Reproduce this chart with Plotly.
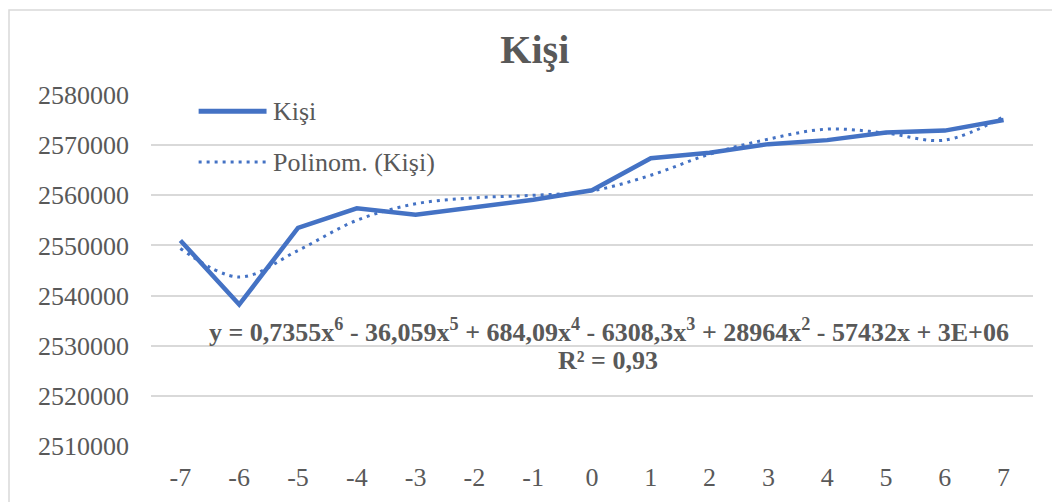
import plotly.graph_objects as go

# Values
years = [-7, -6, -5, -4, -3, -2, -1, 0, 1, 2, 3, 4, 5, 6, 7]
kisi = [2551000, 2538200, 2553500, 2557400, 2556100, 2557600, 2559100, 2561000,
        2567400, 2568500, 2570200, 2571000, 2572500, 2572900, 2575000]
trend = [2549400, 2543700, 2549000, 2555000, 2558300, 2559500, 2560000, 2560900,
         2564000, 2568200, 2571200, 2573200, 2572400, 2571000, 2575700]
y_ticks = [2510000, 2520000, 2530000, 2540000, 2550000, 2560000, 2570000, 2580000]

BLUE = "#4472C4"
GREY = "#595959"
FONT = "Liberation Serif"
DOTS = "3px,5px"

fig = go.Figure()

fig.add_trace(go.Scatter(
    x=years, y=kisi, mode="lines", name="Kişi",
    line=dict(color=BLUE, width=4.5),
))
fig.add_trace(go.Scatter(
    x=years, y=trend, mode="lines", name="Polinom. (Kişi)",
    line=dict(color=BLUE, width=3, dash=DOTS, shape="spline", smoothing=1.0),
))

eq = ("<b>y = 0,7355x<sup>6</sup> - 36,059x<sup>5</sup> + 684,09x<sup>4</sup> - 6308,3x<sup>3</sup>"
      " + 28964x<sup>2</sup> - 57432x + 3E+06</b>")

# legend drawn by hand so the sample lines are as long as in the original
legend_shapes = [
    dict(type="line", xref="paper", yref="paper", x0=0.054, x1=0.131, y0=0.954, y1=0.954,
         line=dict(color=BLUE, width=5)),
    dict(type="line", xref="paper", yref="paper", x0=0.054, x1=0.131, y0=0.809, y1=0.809,
         line=dict(color=BLUE, width=3, dash=DOTS)),
]
legend_notes = [
    dict(x=0.136, y=0.954, xref="paper", yref="paper", text="Kişi", showarrow=False,
         xanchor="left", yanchor="middle", font=dict(size=26, color=GREY, family=FONT)),
    dict(x=0.136, y=0.809, xref="paper", yref="paper", text="Polinom. (Kişi)", showarrow=False,
         xanchor="left", yanchor="middle", font=dict(size=26, color=GREY, family=FONT)),
]

fig.update_layout(
    width=1060, height=502,
    margin=dict(l=143, r=35, t=87, b=64),
    paper_bgcolor="white", plot_bgcolor="white",
    font=dict(family=FONT, color=GREY, size=26),
    title=dict(text="<b>Kişi</b>", x=0.497, xanchor="center", y=0.918, yanchor="middle",
               font=dict(size=40, color=GREY, family=FONT)),
    showlegend=False,
    annotations=[
        dict(x=0.519, y=0.328, xref="paper", yref="paper", text=eq, showarrow=False,
             xanchor="center", yanchor="middle", font=dict(size=26, color=GREY, family=FONT)),
        dict(x=0.518, y=0.245, xref="paper", yref="paper", text="<b>R² = 0,93</b>",
             showarrow=False, xanchor="center", yanchor="middle",
             font=dict(size=26, color=GREY, family=FONT)),
    ] + legend_notes,
    shapes=[
        dict(type="rect", xref="paper", yref="paper", x0=-0.161, y0=-0.3, x1=1.2, y1=1.242,
             line=dict(color="#D9D9D9", width=1.5), fillcolor="rgba(0,0,0,0)", layer="below"),
    ] + legend_shapes,
)

fig.update_xaxes(
    range=[-7.5, 7.5], tickmode="array", tickvals=years, ticktext=[str(v) for v in years],
    showgrid=False, zeroline=False, showline=False, ticks="", ticklabelstandoff=13,
    tickfont=dict(size=26, color=GREY, family=FONT),
)
fig.update_yaxes(
    range=[2510000, 2580000], tickmode="array", tickvals=y_ticks,
    ticktext=[str(v) for v in y_ticks], showgrid=True, gridcolor="#D9D9D9", gridwidth=1.5,
    zeroline=False, showline=False, ticks="", ticklabelstandoff=21,
    tickfont=dict(size=26, color=GREY, family=FONT),
)

fig.write_html("out.html")
